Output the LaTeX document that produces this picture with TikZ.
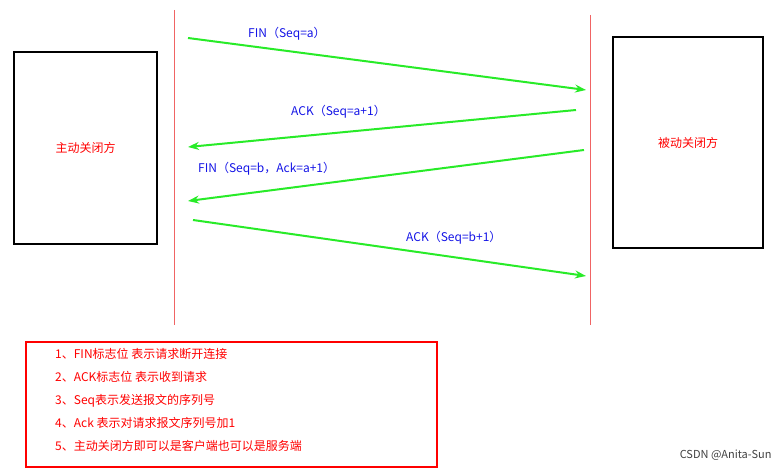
\documentclass[tikz,border=0pt]{standalone}
\usepackage{fontspec}
\setmainfont{Noto Sans CJK SC}
\usetikzlibrary{arrows.meta}
\begin{document}
\begin{tikzpicture}[x=1pt,y=-1pt,
  box/.style={draw=black,line width=1.2pt,fill=white},
  life/.style={draw={rgb,255:red,240;green,100;blue,100},line width=1pt},
  msg/.style={draw={rgb,255:red,40;green,235;blue,40},line width=2pt,-{Stealth[length=11pt,width=8pt]}},
  lbl/.style={text={rgb,255:red,20;green,20;blue,230},font=\fontsize{12}{14}\selectfont,inner sep=0pt},
  red/.style={text=red,font=\fontsize{12}{14}\selectfont}]
\useasboundingbox (0,0) rectangle (779,473);
\node[box,minimum width=143,minimum height=192] (L) at (85.5,148) {};
\node[red] at (L) {主动关闭方};
\node[box,minimum width=150,minimum height=211] (R) at (688,142.5) {};
\node[red] at (R) {被动关闭方};
\coordinate (lt) at (174,10); \coordinate (lb) at (174,325);
\coordinate (rt) at (590,15); \coordinate (rb) at (590,325);
\draw[life] (lt) -- (lb);
\draw[life] (rt) -- (rb);
\coordinate (a1) at (188,38); \coordinate (b1) at (586,90);
\coordinate (a2) at (576,110); \coordinate (b2) at (188,147);
\coordinate (a3) at (584,150); \coordinate (b3) at (188,201);
\coordinate (a4) at (193,220); \coordinate (b4) at (586,276);
\draw[msg] (a1) -- (b1);
\draw[msg] (a2) -- (b2);
\draw[msg] (a3) -- (b3);
\draw[msg] (a4) -- (b4);
\node[lbl,anchor=west] (t1) at (248,34) {FIN（Seq=a）};
\node[lbl,anchor=west] (t2) at (291,112) {ACK（Seq=a+1）};
\node[lbl,anchor=west] (t3) at (198,169) {FIN（Seq=b，Ack=a+1）};
\node[lbl,anchor=west] (t4) at (406,238) {ACK（Seq=b+1）};
\node[draw=red,line width=1.2pt,minimum width=411,minimum height=125] (N) at (231.5,404.5) {};
\node[red,anchor=north west,align=left,inner sep=0pt,font=\fontsize{12}{23}\selectfont] (nt) at (55,348) {1、FIN标志位 表示请求断开连接\\2、ACK标志位 表示收到请求\\3、Seq表示发送报文的序列号\\4、Ack 表示对请求报文序列号加1\\5、主动关闭方即可以是客户端也可以是服务端};
\node[text=black!75,font=\fontsize{11}{13}\selectfont,anchor=east] (wm) at (775,455) {CSDN @Anita-Sun};
\end{tikzpicture}
\end{document}
